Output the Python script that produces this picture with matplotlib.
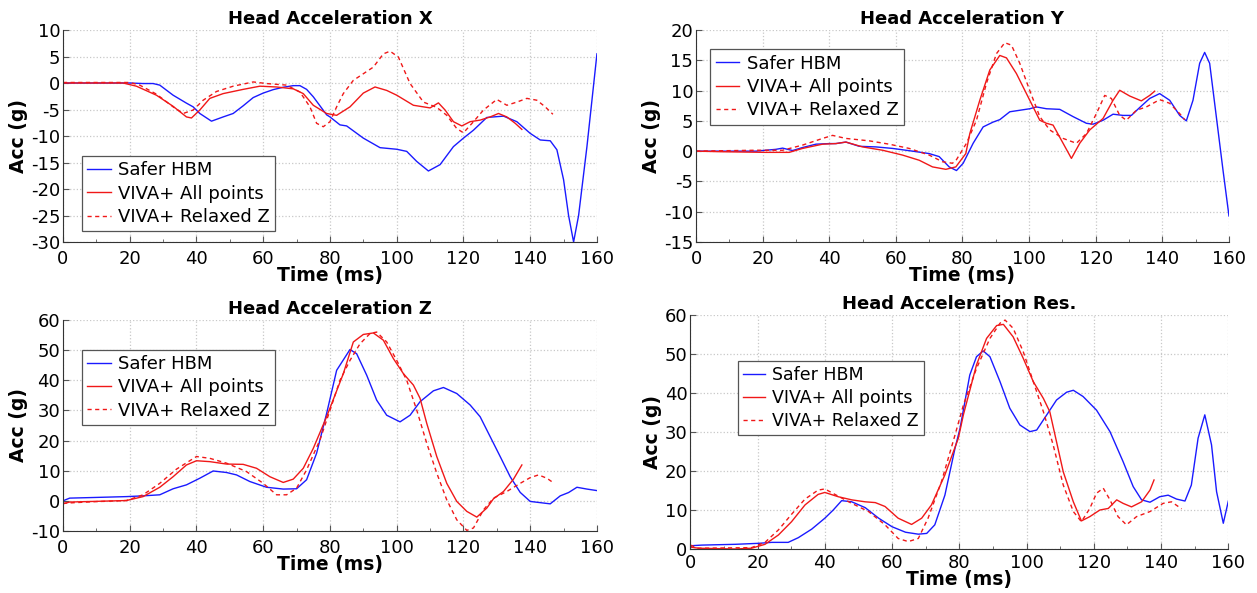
import matplotlib.pyplot as plt
from matplotlib.ticker import MultipleLocator

plt.rcParams['font.family'] = ['DejaVu Sans']
plt.rcParams['axes.unicode_minus'] = False

# ---------------- Head Acceleration X ----------------
x_hbm_t = [0, 10, 20, 24, 27, 29, 33, 37, 39, 41, 44.5, 48, 51, 54, 57, 60, 63, 66, 69, 71, 73, 75, 77, 79, 80, 83,
           85, 90, 95, 100, 103, 106, 109.5, 113, 117, 120, 123, 127, 132, 136, 140, 143, 146, 148, 150, 151.5, 153,
           154.5, 157, 160]
x_hbm = [0, 0, 0, -0.1, -0.1, -0.4, -2.3, -3.8, -4.5, -5.75, -7.2, -6.4, -5.75, -4.3, -2.75, -1.9, -1.25, -0.8, -0.5,
         -0.5, -1.2, -2.6, -4.3, -6, -6.4, -7.9, -8.1, -10.4, -12.2, -12.5, -12.9, -14.8, -16.6, -15.4, -12, -10.4,
         -8.9, -6.5, -6.25, -7.3, -9.5, -10.75, -10.9, -12.6, -18.25, -25, -30, -25, -12, 5.5]

x_all_t = [0, 10, 18, 22, 28, 33, 37, 38.5, 41, 44, 48, 54, 59, 64, 69, 72, 75, 79, 82, 86, 90, 93.5, 97, 100, 105, 110,
           112.5, 114.5, 117, 119.5, 122, 125, 128, 130.5, 133, 135.5, 137.5]
x_all = [0, 0, 0, -0.6, -2.3, -4.4, -6.4, -6.6, -5.1, -2.9, -2.0, -1.2, -0.6, -0.75, -1.1, -2.0, -4.2, -5.75, -6.1,
         -4.5, -1.9, -0.75, -1.4, -2.3, -4.2, -4.7, -3.75, -5.1, -7.3, -8.1, -7.3, -7.0, -6.4, -5.75, -6.4, -7.6, -8.75]

x_rel_t = [0, 10, 20, 23, 28, 33, 36, 39, 42, 46, 51, 57, 61, 67, 71, 74, 76, 78, 80, 82, 84, 87, 90, 93, 96, 98, 100.5,
           104, 108, 112, 115, 118, 120, 123, 126, 130, 133, 136, 139, 142, 144.5, 146.8]
x_rel = [0.1, 0.1, 0.1, -0.4, -2.1, -4.5, -5.75, -5.1, -3.25, -1.6, -0.6, 0.2, -0.1, -0.4, -1.7, -4.5, -7.6, -8.25,
         -7.3, -4.5, -2.0, 0.5, 1.75, 3.0, 5.5, 6.0, 4.9, -0.1, -3.6, -4.6, -6.1, -8.6, -9.4, -7.3, -5.1, -3.1, -4.2,
         -3.6, -2.9, -3.25, -4.5, -5.9]

# ---------------- Head Acceleration Y ----------------
y_hbm_t = [0, 10, 18, 24, 26, 29, 32, 36, 40, 42, 45, 49, 54, 59, 65, 70, 73, 76, 78.2, 80.2, 83.2, 86.2, 89.2, 91.2,
           94.2, 97.2, 100.2, 102.2, 105.2, 109.2, 113.2, 117.2, 119.2, 122.2, 125.2, 128.2, 130.7, 133.2, 136.2,
           139.2, 142.2, 145.2, 147.2, 149.2, 151.2, 152.7, 154.2, 156.2, 158.2, 160]
y_hbm = [0, 0, 0, 0.3, 0.5, 0.1, 0.6, 1.15, 1.25, 1.25, 1.5, 0.8, 0.7, 0.45, 0, -0.4, -0.9, -2.6, -3.2, -2.0, 1.3, 4.0,
         4.8, 5.2, 6.5, 6.75, 7.0, 7.3, 7.0, 6.9, 5.7, 4.6, 4.45, 5.1, 6.1, 5.9, 5.9, 7.2, 8.7, 9.5, 8.4, 5.9, 5.0, 8.4,
         14.5, 16.3, 14.5, 5.7, -3.1, -10.7]

y_all_t = [0, 8, 21, 28, 32, 38, 42, 45, 50, 56, 62, 67, 71, 75, 78, 81, 82.2, 85.2, 88.2, 91.2, 93.2, 96.2, 100.2,
           103.2, 105.2, 107.2, 110.2, 112.7, 115.2, 118.2, 122.2, 125.2, 127.2, 130.2, 133.7, 136.2, 137.7]
y_all = [0, -0.1, -0.2, -0.2, 0.45, 1.15, 1.25, 1.5, 0.7, 0.15, -0.65, -1.5, -2.6, -3.0, -2.6, -0.4, 2.9, 8.4, 13.4,
         15.8, 15.4, 12.8, 8.4, 5.1, 4.6, 4.3, 1.3, -1.2, 1.3, 3.5, 5.4, 8.4, 10.05, 9.1, 8.3, 9.2, 9.9]

y_rel_t = [0, 18, 26, 32, 38, 41, 45, 52, 58, 64, 70, 74, 77, 78.2, 81.2, 84.2, 87.2, 90.2, 92.7, 94.7, 97.2, 100.2,
           103.2, 106.2, 110.2, 114.2, 117.2, 120.2, 122.7, 124.7, 127.2, 129.2, 132.2, 135.2, 139.2, 142.2, 145.2,
           146.7]
y_rel = [0, 0.15, 0.15, 1.0, 2.1, 2.6, 2.1, 1.7, 1.15, 0.45, -0.65, -1.75, -2.0, -1.4, 1.3, 5.1, 11.2, 16.1, 17.9,
         17.5, 14.5, 10.0, 5.7, 3.5, 2.1, 1.3, 2.9, 6.2, 9.2, 8.7, 5.9, 5.1, 6.75, 7.3, 8.5, 7.9, 6.2, 5.2]

# ---------------- Head Acceleration Z ----------------
z_hbm_t = [0, 2, 9, 19, 24, 29, 33, 37, 41, 45, 49, 52, 56, 61, 66, 70, 73, 76, 79, 82, 86, 88, 91, 94, 97, 101, 104,
           107, 111, 114, 118, 122, 125, 128, 131, 134, 137, 140, 143, 146, 149, 151.5, 154, 157, 160]
z_hbm = [0, 0.9, 1.1, 1.4, 1.65, 2.0, 4.0, 5.3, 7.5, 9.9, 9.4, 8.6, 6.4, 4.5, 3.9, 4.0, 7.0, 15.8, 29.0, 43.3, 50.2,
         48.8, 41.7, 33.4, 28.4, 26.2, 28.4, 32.9, 36.5, 37.6, 35.6, 31.8, 27.9, 21.3, 14.7, 8.0, 2.8, -0.2, -0.6,
         -1.0, 1.65, 2.75, 4.5, 3.9, 3.4]

z_all_t = [0, 2, 9, 19, 24, 29, 33, 37, 40, 44, 49, 54, 58, 62, 66, 69, 72, 75, 79, 84, 87, 90, 93, 96, 99, 102, 105,
           107, 109, 112, 115, 118, 121, 124, 127, 129, 132, 135, 137.5]
z_all = [-1.0, -0.4, -0.2, 0.1, 1.4, 4.5, 8.0, 11.9, 13.3, 13.0, 12.2, 12.1, 10.8, 8.0, 6.1, 7.2, 10.8, 17.4, 27.9,
         42.2, 52.7, 55.2, 55.7, 53.3, 47.2, 42.2, 38.4, 34.0, 25.7, 14.7, 5.8, -0.2, -3.5, -5.4, -2.4, 0.7, 3.1, 7.2,
         11.9]

z_rel_t = [0, 9, 19, 24, 29, 34, 40, 44, 49, 55, 60, 64, 67, 70, 73, 77, 80, 83, 86, 89, 92, 94, 97, 100, 103, 106,
           109, 112, 115, 118, 121, 123, 126, 129, 133, 137, 140, 142.5, 145, 146.8]
z_rel = [-0.8, -0.3, 0.1, 2.0, 5.8, 10.5, 14.7, 14.1, 12.5, 9.7, 5.8, 2.0, 2.0, 4.2, 10.3, 20.2, 30.0, 40.0, 46.6,
         52.1, 55.5, 56.0, 52.7, 46.6, 40.0, 30.1, 19.1, 9.2, 0.3, -6.3, -9.8, -9.0, -3.0, 0.9, 3.1, 5.8, 7.7, 8.6, 7.5,
         6.1]

# ---------------- Head Acceleration Res. ----------------
r_hbm_t = [0, 0.4, 3.4, 13.3, 20.2, 24.2, 29.1, 32.1, 36.1, 40, 42.5, 45, 48, 52, 56, 60, 64, 67.8, 70.3, 72.7, 75.7,
           78.7, 80.2, 83.1, 85.1, 87.1, 89.1, 92.1, 95, 98, 101, 103, 106, 108.9, 111.9, 113.9, 116.8, 120.8, 124.8,
           128.7, 131.7, 134.2, 136.7, 139.6, 142.1, 144.6, 147.1, 149, 151, 153, 155, 156.5, 158.5, 160]
r_hbm = [0.2, 0.85, 1.0, 1.2, 1.45, 1.7, 1.7, 2.9, 5.1, 7.9, 10.0, 12.4, 12.1, 10.6, 7.9, 5.7, 4.3, 3.8, 4.0, 6.2,
         13.8, 25.8, 30.9, 44.6, 49.3, 50.8, 49.3, 42.9, 36.1, 31.8, 30.1, 30.5, 34.4, 38.2, 40.2, 40.7, 39.1, 35.6,
         30.1, 22.4, 16.0, 12.6, 12.0, 13.4, 13.8, 12.8, 12.3, 16.4, 28.4, 34.4, 26.7, 14.7, 6.6, 12.3]

r_all_t = [0, 2.4, 13.3, 18.2, 22.2, 26.2, 30.1, 34.1, 38, 40, 44, 48, 52, 55, 57.9, 61.8, 65.8, 68.8, 71.7, 75.7,
           79.7, 81.2, 85.1, 88.1, 91.1, 93.1, 96, 99, 102, 105, 106.9, 108.9, 110.9, 113.9, 116.3, 118.8, 121.8, 124.3,
           126.8, 128.7, 131.2, 134.2, 136.7, 137.9]
r_all = [0.5, 0.2, 0, 0.2, 1.2, 3.6, 7.0, 11.3, 14.0, 14.5, 13.4, 12.6, 12.1, 11.9, 10.9, 7.9, 6.3, 7.9, 11.3, 19.0,
         28.4, 34.4, 47.2, 54.0, 57.3, 57.6, 54.4, 48.9, 42.9, 38.6, 35.2, 27.5, 19.8, 12.1, 7.2, 8.3, 10.0, 10.4,
         12.6, 11.7, 10.8, 12.1, 15.1, 17.7]

r_rel_t = [0, 2.4, 18.2, 22.2, 26.2, 30.1, 34.1, 38, 40, 43, 48, 53, 57.9, 61.8, 64.8, 67.8, 70.7, 74.7, 78.7, 81.2,
           85.1, 89.1, 92.1, 93.6, 96, 99, 102, 105, 107.9, 110.9, 113.9, 116.3, 118.8, 120.8, 122.8, 124.8, 127.2,
           129.7, 132.7, 136.7, 140.6, 143.1, 146.1]
r_rel = [1.0, 0.2, 0.35, 1.7, 4.9, 8.9, 12.8, 15.1, 15.4, 14.0, 11.7, 9.6, 6.2, 2.7, 1.9, 2.7, 7.9, 17.3, 29.2, 36.9,
         46.3, 54.0, 57.9, 58.7, 56.6, 50.6, 42.9, 35.2, 26.7, 16.4, 9.6, 7.0, 10.4, 14.3, 15.6, 12.6, 8.3, 6.2, 8.3,
         9.6, 11.7, 12.1, 10.3]

labels = ['Safer HBM', 'VIVA+ All points', 'VIVA+ Relaxed Z']
blue = '#1a1aff'
red = '#f01818'

panels = [
    ('Head Acceleration X', [0.0501, 0.5919, 0.4248, 0.3575], (-30, 10), 5,
     (x_hbm_t, x_hbm), (x_all_t, x_all), (x_rel_t, x_rel), ('lower left', (0.035, 0.05)), 13, 5.5),
    ('Head Acceleration Y', [0.5537, 0.5919, 0.4240, 0.3575], (-15, 20), 5,
     (y_hbm_t, y_hbm), (y_all_t, y_all), (y_rel_t, y_rel), ('upper left', (0.027, 0.91)), 13, 5.5),
    ('Head Acceleration Z', [0.0501, 0.1046, 0.4248, 0.3558], (-10, 60), 10,
     (z_hbm_t, z_hbm), (z_all_t, z_all), (z_rel_t, z_rel), ('upper left', (0.035, 0.86)), 13, 5.5),
    ('Head Acceleration Res.', [0.5492, 0.0742, 0.4280, 0.3946], (0, 60), 10,
     (r_hbm_t, r_hbm), (r_all_t, r_all), (r_rel_t, r_rel), ('upper left', (0.088, 0.805)), 12.5, 3.5),
]

fig = plt.figure(figsize=(12.57, 5.93), dpi=100)

for title, rect, ylim, ystep, hbm, allp, rel, leg, legsize, xpad in panels:
    ax = fig.add_axes(rect)
    ax.plot(hbm[0], hbm[1], color=blue, lw=1.0, label=labels[0])
    ax.plot(allp[0], allp[1], color=red, lw=1.0, label=labels[1])
    ax.plot(rel[0], rel[1], color=red, lw=1.0, ls=(0, (3, 2.5)), label=labels[2])
    ax.set_xlim(0, 160)
    ax.set_ylim(*ylim)
    ax.xaxis.set_major_locator(MultipleLocator(20))
    ax.xaxis.set_minor_locator(MultipleLocator(10))
    ax.yaxis.set_major_locator(MultipleLocator(ystep))
    ax.grid(True, which='major', color='#c8c8c8', ls=':', lw=0.9)
    ax.spines['top'].set_visible(False)
    ax.spines['right'].set_visible(False)
    ax.spines['left'].set_color('#333333')
    ax.spines['bottom'].set_color('#333333')
    ax.tick_params(which='both', direction='in', labelsize=13, pad=2, color='#555555')
    ax.tick_params(axis='x', which='both', pad=xpad)
    ax.tick_params(which='major', length=4)
    ax.tick_params(which='minor', length=2.5)
    ax.set_title(title, fontsize=13, fontweight='bold', pad=4)
    ax.set_xlabel('Time (ms)', fontsize=13.5, fontweight='bold', labelpad=-1)
    ax.set_ylabel('Acc (g)', fontsize=13.5, fontweight='bold', labelpad=2)
    lg = ax.legend(loc=leg[0], bbox_to_anchor=leg[1], fontsize=legsize, fancybox=False, framealpha=1,
                   handlelength=1.3, handletextpad=0.4, borderpad=0.3, labelspacing=0.3, borderaxespad=0)
    lg.get_frame().set_edgecolor('#555555')
    lg.get_frame().set_linewidth(0.9)

fig.savefig('out.png', dpi=100)
